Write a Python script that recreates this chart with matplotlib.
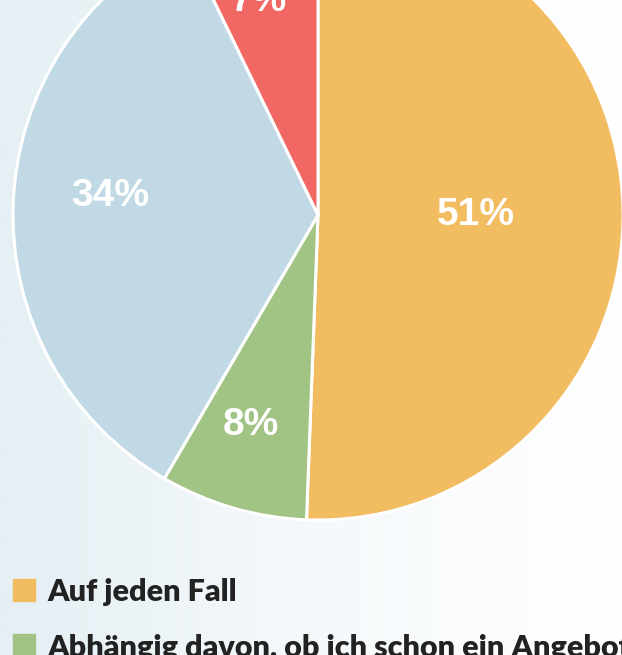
import numpy as np
import matplotlib
matplotlib.use("Agg")
import matplotlib.pyplot as plt
from matplotlib.colors import LinearSegmentedColormap
from matplotlib.transforms import offset_copy

labels = ["Auf jeden Fall", "Abhängig davon, ob ich schon ein Angebot habe", "Nein", "Vielleicht"]
values = [50.6, 7.8, 34.4, 7.2]
colors = ["#F2BC60", "#A1C485", "#C0D9E4", "#F06763"]
label_radius = [0.52, 0.72, 0.69, 0.72]
label_nudge = [(-1, 3), (-6, 1), (2, 11), (-10, 0)]  # pixels (x right, y up)

fig = plt.figure(figsize=(6.22, 6.55), dpi=100)

# background gradient
bg = fig.add_axes([0, 0, 1, 1])
grad = np.linspace(0, 1, 256)[None, :]
cmap = LinearSegmentedColormap.from_list("bg", ["#E5EFF4", "#F5F9FB", "#FFFFFF"])
bg.imshow(grad, aspect="auto", cmap=cmap, extent=[0, 1, 0, 1])
bg.axis("off")

W, H = 622, 655
cx, cy, r = 318, 215, 305
ax = fig.add_axes([(cx - r) / W, (H - cy - r) / H, 2 * r / W, 2 * r / H])
wedges, _ = ax.pie(values, colors=colors, startangle=90, counterclock=False,
                   radius=1, wedgeprops=dict(edgecolor="white", linewidth=2.2))
ax.set_xlim(-1, 1)
ax.set_ylim(-1, 1)
ax.set_aspect("equal")
ax.axis("off")

for w, v, lr, (nx, ny) in zip(wedges, values, label_radius, label_nudge):
    ang = np.deg2rad((w.theta1 + w.theta2) / 2)
    tr = offset_copy(ax.transData, fig=fig, x=nx, y=ny, units="dots")
    ax.text(lr * np.cos(ang), lr * np.sin(ang), f"{round(v)}%", ha="center", va="center",
            color="white", fontsize=28, fontweight="bold", family="Liberation Sans",
            transform=tr)

# legend
for i, (lab, col) in enumerate(zip(labels[:2], colors[:2])):
    y = 590 + i * 55
    fig.patches.append(plt.Rectangle((13 / W, 1 - (y + 11) / H), 22 / W, 22 / H,
                                     transform=fig.transFigure, color=col))
    fig.text(47 / W, 1 - y / H, lab, ha="left", va="center_baseline", fontsize=22,
             fontweight="heavy", family="Lato", color="#222222")

fig.savefig("out.png", dpi=100)
